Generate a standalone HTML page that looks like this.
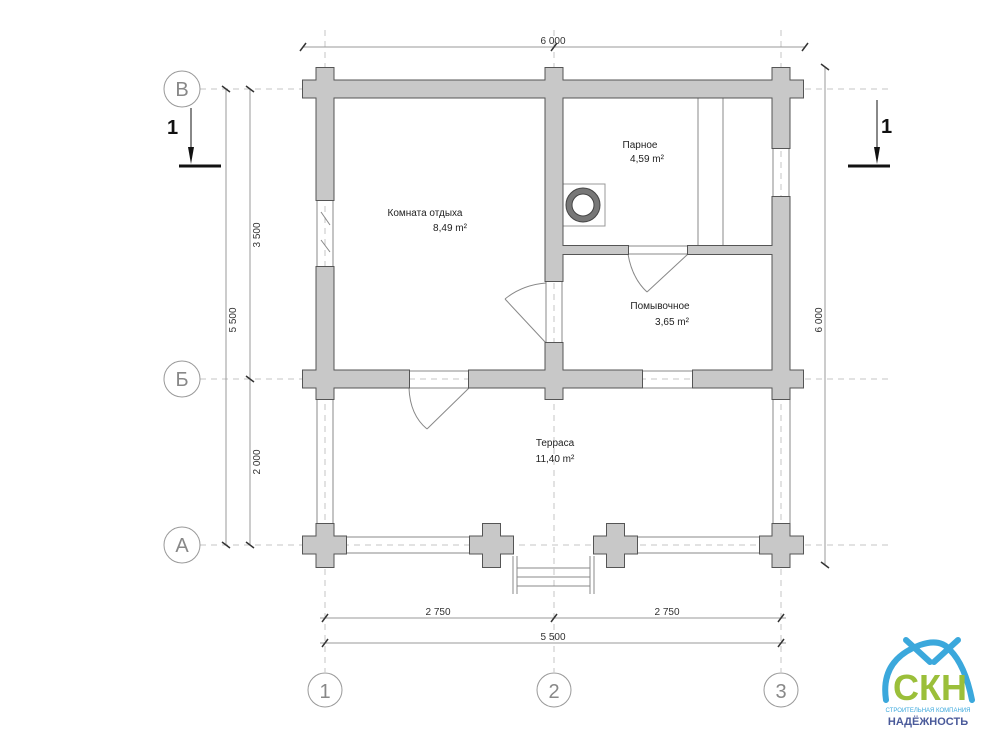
<!DOCTYPE html>
<html><head><meta charset="utf-8"><style>
html,body{margin:0;padding:0;background:#fff;}
svg{display:block;font-family:"Liberation Sans","Noto Sans CJK SC",sans-serif;}
</style></head><body>
<svg width="1000" height="750" viewBox="0 0 1000 750" xmlns="http://www.w3.org/2000/svg">
<!-- axis dashed lines -->
<g stroke="#c4c4c4" stroke-width="1" stroke-dasharray="6,5" fill="none">
<line x1="200" y1="89" x2="890" y2="89"/>
<line x1="200" y1="379" x2="890" y2="379"/>
<line x1="200" y1="545" x2="890" y2="545"/>
<line x1="325" y1="30" x2="325" y2="672"/>
<line x1="554" y1="30" x2="554" y2="672"/>
<line x1="781" y1="30" x2="781" y2="672"/>
</g>
<!-- dimension lines -->
<g stroke="#999" stroke-width="1" fill="none">
<line x1="303" y1="47" x2="805" y2="47"/>
<line x1="226" y1="89" x2="226" y2="545"/>
<line x1="250" y1="89" x2="250" y2="545"/>
<line x1="825" y1="67" x2="825" y2="565"/>
<line x1="320" y1="618" x2="786" y2="618"/>
<line x1="320" y1="643" x2="786" y2="643"/>
</g>
<g stroke="#333" stroke-width="1.5">
<line x1="300" y1="51" x2="306" y2="43"/><line x1="551" y1="51" x2="557" y2="43"/><line x1="802" y1="51" x2="808" y2="43"/>
<line x1="222" y1="86" x2="230" y2="92"/><line x1="222" y1="542" x2="230" y2="548"/>
<line x1="246" y1="86" x2="254" y2="92"/><line x1="246" y1="376" x2="254" y2="382"/><line x1="246" y1="542" x2="254" y2="548"/>
<line x1="821" y1="64" x2="829" y2="70"/><line x1="821" y1="562" x2="829" y2="568"/>
<line x1="322" y1="622" x2="328" y2="614"/><line x1="551" y1="622" x2="557" y2="614"/><line x1="778" y1="622" x2="784" y2="614"/>
<line x1="322" y1="647" x2="328" y2="639"/><line x1="778" y1="647" x2="784" y2="639"/>
</g>
<g font-size="10" fill="#333" text-anchor="middle">
<text x="553" y="44">6 000</text>
<text x="438" y="615">2 750</text>
<text x="667" y="615">2 750</text>
<text x="553" y="640">5 500</text>
<text transform="translate(236,320) rotate(-90)">5 500</text>
<text transform="translate(260,235) rotate(-90)">3 500</text>
<text transform="translate(260,462) rotate(-90)">2 000</text>
<text transform="translate(822,320) rotate(-90)">6 000</text>
</g>
<!-- axis circles -->
<g fill="#fff" stroke="#999" stroke-width="1">
<circle cx="182" cy="89" r="18"/><circle cx="182" cy="379" r="18"/><circle cx="182" cy="545" r="18"/>
<circle cx="325" cy="690" r="17"/><circle cx="554" cy="690" r="17"/><circle cx="781" cy="690" r="17"/>
</g>
<g font-size="20" fill="#888" text-anchor="middle">
<text x="182" y="96">B</text><text x="182" y="386">Б</text><text x="182" y="552">A</text>
<text x="325" y="698">1</text><text x="554" y="698">2</text><text x="781" y="698">3</text>
</g>
<!-- section marks -->
<g stroke="#111">
<line x1="179" y1="166" x2="221" y2="166" stroke-width="3"/>
<line x1="191" y1="108" x2="191" y2="150" stroke-width="1"/>
<line x1="848" y1="166" x2="890" y2="166" stroke-width="3"/>
<line x1="877" y1="100" x2="877" y2="150" stroke-width="1"/>
</g>
<polygon points="188,147 194,147 191,164" fill="#111"/>
<polygon points="874,147 880,147 877,164" fill="#111"/>
<g font-size="20" font-weight="bold" fill="#111"><text x="167" y="134">1</text><text x="881" y="133">1</text></g>

<!-- terrace rails -->
<g stroke="#888" stroke-width="1" fill="none">
<line x1="317" y1="398" x2="317" y2="525"/><line x1="333" y1="398" x2="333" y2="525"/>
<line x1="773" y1="398" x2="773" y2="525"/><line x1="790" y1="398" x2="790" y2="525"/>
<line x1="345" y1="537" x2="472" y2="537"/><line x1="345" y1="553" x2="472" y2="553"/>
<line x1="635" y1="537" x2="762" y2="537"/><line x1="635" y1="553" x2="762" y2="553"/>
<!-- steps -->
<line x1="513" y1="556" x2="513" y2="594"/><line x1="517" y1="556" x2="517" y2="594"/>
<line x1="590" y1="556" x2="590" y2="594"/><line x1="594" y1="556" x2="594" y2="594"/>
<line x1="517" y1="568" x2="590" y2="568"/><line x1="517" y1="577" x2="590" y2="577"/><line x1="517" y1="586" x2="590" y2="586"/>
<!-- openings -->
<rect x="317" y="200" width="16" height="67"/><rect x="546" y="281" width="16" height="62"/>
<rect x="773" y="148" width="16" height="49"/>
<rect x="409" y="371" width="60" height="17"/><rect x="642" y="371" width="51" height="17"/>
<rect x="628" y="246" width="60" height="8"/>
<!-- benches -->
<line x1="698" y1="97" x2="698" y2="246"/><line x1="723" y1="97" x2="723" y2="246"/>
<!-- doors -->
<line x1="469" y1="388" x2="427" y2="429"/><path d="M409,388 Q410,415 427,429"/>
<line x1="546" y1="343" x2="505" y2="299"/><path d="M505,299 Q522,285 546,283"/>
<line x1="688" y1="254" x2="647" y2="292"/><path d="M628,254 Q632,278 647,292"/>
<line x1="321" y1="212" x2="330" y2="225"/><line x1="321" y1="240" x2="330" y2="252"/>
</g>
<!-- stove -->
<rect x="562" y="184" width="43" height="42" fill="#fff" stroke="#999"/>
<circle cx="583" cy="205" r="17" fill="#777" stroke="#444"/>
<circle cx="583" cy="205" r="11" fill="#fff" stroke="#444"/>

<!-- walls: outline pass -->
<g fill="#c8c8c8" stroke="#555" stroke-width="2">
<g id="w">
<rect x="303" y="80.5" width="500" height="17"/>
<rect x="303" y="370.5" width="106" height="17"/><rect x="469" y="370.5" width="173" height="17"/><rect x="693" y="370.5" width="110" height="17"/>
<rect x="316.5" y="68" width="17" height="132"/><rect x="316.5" y="267" width="17" height="132"/>
<rect x="545.5" y="68" width="17" height="213"/><rect x="545.5" y="343" width="17" height="56"/>
<rect x="772.5" y="68" width="17" height="80"/><rect x="772.5" y="197" width="17" height="202"/>
<rect x="562" y="246" width="66" height="8"/><rect x="688" y="246" width="85" height="8"/>
<rect x="303" y="536.5" width="43" height="17"/><rect x="316.5" y="524" width="17" height="43"/>
<rect x="470" y="536.5" width="43" height="17"/><rect x="483" y="524" width="17" height="43"/>
<rect x="594" y="536.5" width="43" height="17"/><rect x="607" y="524" width="17" height="43"/>
<rect x="760" y="536.5" width="43" height="17"/><rect x="772.5" y="524" width="17" height="43"/>
</g>
</g>
<g fill="#c8c8c8" stroke="none"><use href="#w"/></g>

<!-- room labels -->
<g font-size="10" fill="#222" text-anchor="middle">
<text x="425" y="216">Комната отдыха</text><text x="450" y="231">8,49 m²</text>
<text x="640" y="148">Парное</text><text x="647" y="162">4,59 m²</text>
<text x="660" y="309">Помывочное</text><text x="672" y="325">3,65 m²</text>
<text x="555" y="446">Терраса</text><text x="555" y="462">11,40 m²</text>
</g>

<!-- logo -->
<g fill="none" stroke="#3ba8dc" stroke-width="6" stroke-linecap="round">
<path d="M886,700 Q880,660 920,645 Q940,638 950,650 Q965,665 972,700"/>
<path d="M906,640 L930,662 M958,640 L934,662"/>
</g>
<text x="930" y="700" font-size="36" font-weight="bold" fill="#9bbf3a" text-anchor="middle" font-family="Liberation Sans Narrow, Liberation Sans, sans-serif">СКН</text>
<text x="928" y="712" font-size="6" fill="#3ba8dc" text-anchor="middle">СТРОИТЕЛЬНАЯ КОМПАНИЯ</text>
<text x="928" y="725" font-size="11" font-weight="bold" fill="#4a5a9a" text-anchor="middle">НАДЁЖНОСТЬ</text>
</svg>
</body></html>
